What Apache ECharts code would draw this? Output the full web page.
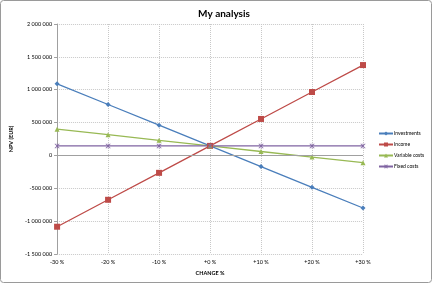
<!DOCTYPE html>
<html><head><meta charset="utf-8">
<script src="https://cdn.jsdelivr.net/npm/echarts@6/dist/echarts.min.js"></script>
<style>html,body{margin:0;padding:0;background:#fff}#c{width:432px;height:283px}</style>
</head><body><div id="c"></div>
<script>
const categories = ['-30 %','-20 %','-10 %','+0 %','+10 %','+20 %','+30 %'];
const investments = [1090000, 775000, 460000, 145000, -170000, -485000, -800000];
const income = [-1085000, -675000, -265000, 145000, 555000, 965000, 1375000];
const variableCosts = [400000, 315000, 230000, 145000, 60000, -25000, -110000];
const fixedCosts = [145000, 145000, 145000, 145000, 145000, 145000, 145000];
const seriesNames = ['Investments','Income','Variable costs','Fixed costs'];

const font = 'Lato, "Open Sans", sans-serif';
const chart = echarts.init(document.getElementById('c'), null, {renderer:'canvas'});
function fmt(v){ const s = Math.abs(v).toString().replace(/\B(?=(\d{3})+(?!\d))/g,' '); return (v<0?'-':'')+s; }
const starPath = 'path://M0,1L1,0L5,4L9,0L10,1L6,5L10,9L9,10L5,6L1,10L0,9L4,5Z M4.4,0L5.6,0L5.6,10L4.4,10Z';
function mk(name, data, color, symbol, size){
  return {name, type:'line', data, symbol, symbolSize:size, showSymbol:true,
    lineStyle:{color, width:1.3}, itemStyle:{color, borderWidth: 0},
    animation:false};
}
const s = [
  mk(seriesNames[0], investments, '#4A7EBB', 'diamond', 5),
  mk(seriesNames[1], income, '#BE4B48', 'rect', 6),
  mk(seriesNames[2], variableCosts, '#98B954', 'triangle', 5),
  mk(seriesNames[3], fixedCosts, '#8064A2', starPath, 5)
];
s[0].markLine = {silent:true, symbol:'none', label:{show:false}, lineStyle:{color:'#a0a0a0', type:'solid', width:1}, data:[{yAxis:0}], animation:false};
chart.setOption({
  animation:false,
  textStyle:{fontFamily:font},
  graphic:[{type:'rect', shape:{x:0.5,y:0.5,width:431,height:282,r:3}, style:{fill:'none', stroke:'#9a9a9a', lineWidth:1}, z:-1}],
  title:{text:'My analysis', left:219, textAlign:'center', top:4, textStyle:{fontFamily:font, fontSize:10, fontWeight:'bold', color:'#000'}},
  legend:{orient:'vertical', left:378, top:131, padding:0, itemWidth:14, itemHeight:5, itemGap:6,
    textStyle:{fontFamily:font, fontSize:5, color:'#000', padding:[0,0,0,-4]}, data:seriesNames},
  grid:{left:47, right:69, top:24, bottom:29, containLabel:false},
  xAxis:{type:'category', data:categories, boundaryGap:false,
    name:'CHANGE %', nameLocation:'middle', nameGap:12, nameTextStyle:{fontFamily:font, fontSize:5.5, fontWeight:'bold', color:'#000'},
    axisLine:{onZero:false, show:false}, axisTick:{show:false},
    axisLabel:{fontSize:5.5, color:'#000', margin:5, fontFamily:font},
    splitLine:{show:true, lineStyle:{color:'#c8c8c8', type:[1,1], width:1}}},
  yAxis:{type:'value', min:-1500000, max:2000000, interval:500000,
    name:'NPV (EUR)', nameLocation:'middle', nameGap:34, nameRotate:90, nameTextStyle:{fontFamily:font, fontSize:5.5, fontWeight:'bold', color:'#000'},
    axisLine:{show:true, lineStyle:{color:'#a0a0a0'}}, axisTick:{show:true, length:3, lineStyle:{color:'#a0a0a0'}},
    axisLabel:{fontSize:5.5, color:'#000', margin:5, fontFamily:font, formatter:fmt},
    splitLine:{show:true, lineStyle:{color:'#c8c8c8', type:[1,1], width:1}}},
  series:s
});
</script></body></html>
